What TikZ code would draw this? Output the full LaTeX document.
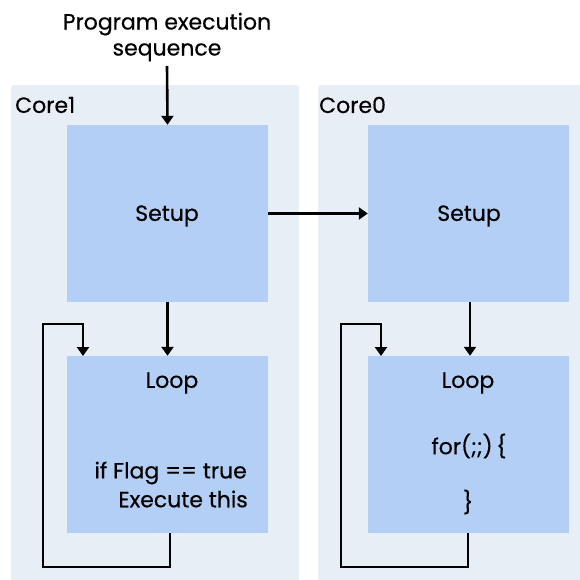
\documentclass[tikz,border=0pt]{standalone}
\usepackage{fontspec}
\setmainfont{Poppins}[FakeBold=0.5]
\usetikzlibrary{arrows.meta}
\definecolor{panelbg}{HTML}{E8EEF6}
\definecolor{boxfill}{HTML}{B3CFF5}
\begin{document}
\begin{tikzpicture}[x=1pt,y=-1pt,
  block/.style={fill=boxfill,draw=none,minimum width=201pt,minimum height=177pt,inner sep=0pt},
  lbl/.style={font=\fontsize{22}{26}\selectfont,inner sep=0pt,text=black},
  flow/.style={line width=2.6pt,-{Triangle[width=12pt,length=9pt]}}]
\useasboundingbox (0,0) rectangle (579,580);

% core panels
\fill[panelbg,rounded corners=3pt] (11,85) rectangle (299,585);
\fill[panelbg,rounded corners=3pt] (318,85) rectangle (585,585);
\node[lbl,anchor=west] (core1) at (15,105) {Core1};
\node[lbl,anchor=west] (core0) at (319,105) {Core0};

% blocks
\node[block] (setupL) at (167.5,213.5) {};
\node[block] (loopL)  at (167.5,444.5) {};
\node[block] (setupR) at (468.5,213.5) {};
\node[block] (loopR)  at (468.5,444.5) {};

% block texts
\node[lbl] (tsetL) at (167,216) {Setup};
\node[lbl] (tsetR) at (469,216) {Setup};
\node[lbl] (tloopL) at (172,383) {Loop};
\node[lbl] (tloopR) at (468,383) {Loop};
\node[lbl,anchor=east] (flag) at (247,473) {if Flag == true};
\node[lbl,anchor=east] (exec) at (248,499) {Execute this};
\node[lbl] (forl) at (469,446) {for(;;)\,\{};
\node[lbl] (brace) at (468,502) {\}};

% title
\node[lbl,align=center] (title) at (167,37) {Program execution\\sequence};

% connectors
\coordinate (start) at (167,66);
\draw[flow] (start) -- (setupL.north);
\draw[flow] (setupL.south) -- (loopL.north);
\draw[flow] (setupL.east) -- (setupR.west);
\draw[flow] ([xshift=1.5pt]setupR.south) -- ([xshift=1.5pt]loopR.north);

% feedback loops
\coordinate (lbot) at (170,533);
\coordinate (lin)  at (83,356);
\draw[flow] (lbot) -- (170,567) -- (43,567) -- (43,324) -- (83,324) -- (lin);
\coordinate (rbot) at (468,533);
\coordinate (rin)  at (381,356);
\draw[flow] (rbot) -- (468,567) -- (341,567) -- (341,324) -- (381,324) -- (rin);
\end{tikzpicture}
\end{document}
